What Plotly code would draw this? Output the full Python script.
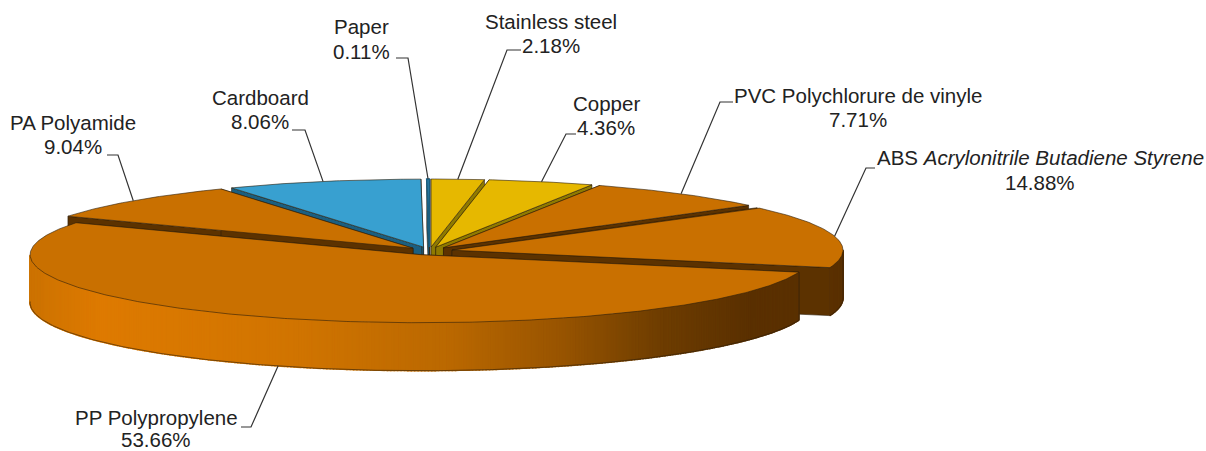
import math
import plotly.graph_objects as go

# ---- data ----
materials = ["Stainless steel", "Copper", "PVC Polychlorure de vinyle",
             "ABS <i>Acrylonitrile Butadiene Styrene</i>", "PP Polypropylene",
             "PA Polyamide", "Cardboard", "Paper"]
shares = [2.18, 4.36, 7.71, 14.88, 53.66, 9.04, 8.06, 0.11]
share_labels = ["2.18%", "4.36%", "7.71%", "14.88%", "53.66%", "9.04%", "8.06%", "0.11%"]

# ---- style / layout ----
TOP = {"steel": "#E6B800", "orange": "#C97000", "blue": "#38A0D0"}
SIDE = {"steel": "#8F7A00", "orange": "#5C3200", "blue": "#1B5F80"}
families = ["steel", "steel", "orange", "orange", "orange", "orange", "blue", "blue"]
draw_order = [6, 7, 0, 1, 2, 5, 3, 4]
CX, CY, RX, RY, DEPTH, EXPLODE = 429.5, 251.0, 391.0, 68.0, 48.0, 23.0
label_x = [551, 606, 858, 1040, 156, 73, 260, 361]
name_y = [21, 103, 95, 157, 417, 122, 97, 26]
share_y = [45, 127, 119, 182, 439, 146, 121, 51]
elbows = [((507, 50), (521, 50)), ((566, 134), (576, 134)), ((720, 102), (733, 102)),
          ((866, 168), (875, 168)), ((251, 427), (241, 427)), ((118, 155), (107, 155)),
          ((305, 130), (292, 130)), ((408, 58), (396, 58))]
grad_x = [30, 100, 300, 450, 560, 660, 750, 900]
grad_rgb = [(204, 114, 0), (222, 122, 0), (208, 116, 0), (186, 104, 0),
            (152, 84, 0), (110, 61, 0), (90, 48, 0), (90, 48, 0)]
EDGE = "rgba(45,30,10,0.75)"


def wall_colour(x):
    for i in range(len(grad_x) - 1):
        if x <= grad_x[i + 1]:
            t = max(0, (x - grad_x[i]) / (grad_x[i + 1] - grad_x[i]))
            c = [round(a + (b - a) * t) for a, b in zip(grad_rgb[i], grad_rgb[i + 1])]
            return f"rgb({c[0]},{c[1]},{c[2]})"
    return "rgb(90,48,0)"


def rim(cx, cy, deg, dz=0.0):
    a = math.radians(deg)
    return cx + RX * math.sin(a), cy - RY * math.cos(a) + dz


def poly(fig, pts, fill, line=None, width=0.8):
    fig.add_trace(go.Scatter(
        x=[p[0] for p in pts] + [pts[0][0]], y=[p[1] for p in pts] + [pts[0][1]],
        mode="lines", fill="toself", fillcolor=fill,
        line=dict(color=line or fill, width=width), hoverinfo="skip", showlegend=False))


def edge(fig, pts, color=EDGE, width=0.8):
    fig.add_trace(go.Scatter(x=[p[0] for p in pts], y=[p[1] for p in pts], mode="lines",
                             line=dict(color=color, width=width), hoverinfo="skip", showlegend=False))


total = sum(shares)
spans, acc = [], 0.0
for v in shares:
    spans.append((acc / total * 360, (acc + v) / total * 360))
    acc += v

fig = go.Figure()
anchors = {}
for i in draw_order:
    a0, a1 = spans[i]
    mid = (a0 + a1) / 2
    m = math.radians(mid)
    cx = CX + EXPLODE * math.sin(m)
    cy = CY - EXPLODE * (RY / RX) * math.cos(m)
    fam = families[i]
    n = max(2, int((a1 - a0) / 0.5))
    angs = [a0 + (a1 - a0) * k / n for k in range(n + 1)]

    # radial walls
    for a in (a0, a1):
        p = rim(cx, cy, a)
        poly(fig, [(cx, cy), p, (p[0], p[1] + DEPTH), (cx, cy + DEPTH)], SIDE[fam], EDGE)

    # outer wall, front-facing part only
    for k in range(n):
        u, v = angs[k], angs[k + 1]
        if math.cos(math.radians((u + v) / 2)) > 0:
            continue
        p, q = rim(cx, cy, u), rim(cx, cy, v)
        col = wall_colour((p[0] + q[0]) / 2)
        poly(fig, [p, q, (q[0], q[1] + DEPTH), (p[0], p[1] + DEPTH)], col, col, 1.4)
    front = [a for a in angs if math.cos(math.radians(a)) <= 0.02]
    if front:
        edge(fig, [rim(cx, cy, a, DEPTH) for a in front])
        p = rim(cx, cy, front[0])
        edge(fig, [p, (p[0], p[1] + DEPTH)])

    # top face
    top_col = TOP[fam] if i != 7 else "#2F86AF"
    poly(fig, [(cx, cy)] + [rim(cx, cy, a) for a in angs], top_col,
         EDGE if i != 7 else "#1B5F80", 0.8 if i != 7 else 1.6)

    # leader anchor taken from the slice's own mid-angle
    if math.cos(m) < -0.5:
        anchors[i] = rim(cx, cy, mid, DEPTH)
    else:
        anchors[i] = rim(cx, cy, mid)

for i, name in enumerate(materials):
    edge(fig, [anchors[i], elbows[i][0], elbows[i][1]], "#333333", 1.2)

annotations = []
for i, name in enumerate(materials):
    for txt, yy in ((name, name_y[i]), (share_labels[i], share_y[i])):
        annotations.append(dict(x=label_x[i], y=yy, xref="x", yref="y",
                                text=txt, showarrow=False, borderpad=0,
                                align="center", xanchor="center", yanchor="middle",
                                font=dict(family="Liberation Sans", size=20.5, color="#222222")))

fig.update_layout(
    width=1206, height=451, margin=dict(l=0, r=0, t=0, b=0),
    paper_bgcolor="white", plot_bgcolor="white", showlegend=False,
    xaxis=dict(range=[0, 1206], visible=False, fixedrange=True),
    yaxis=dict(range=[451, 0], visible=False, fixedrange=True),
    annotations=annotations)
fig.write_html("out.html", config={"displayModeBar": False},
               post_script="document.body.style.margin='0';document.body.style.overflow='hidden';")
